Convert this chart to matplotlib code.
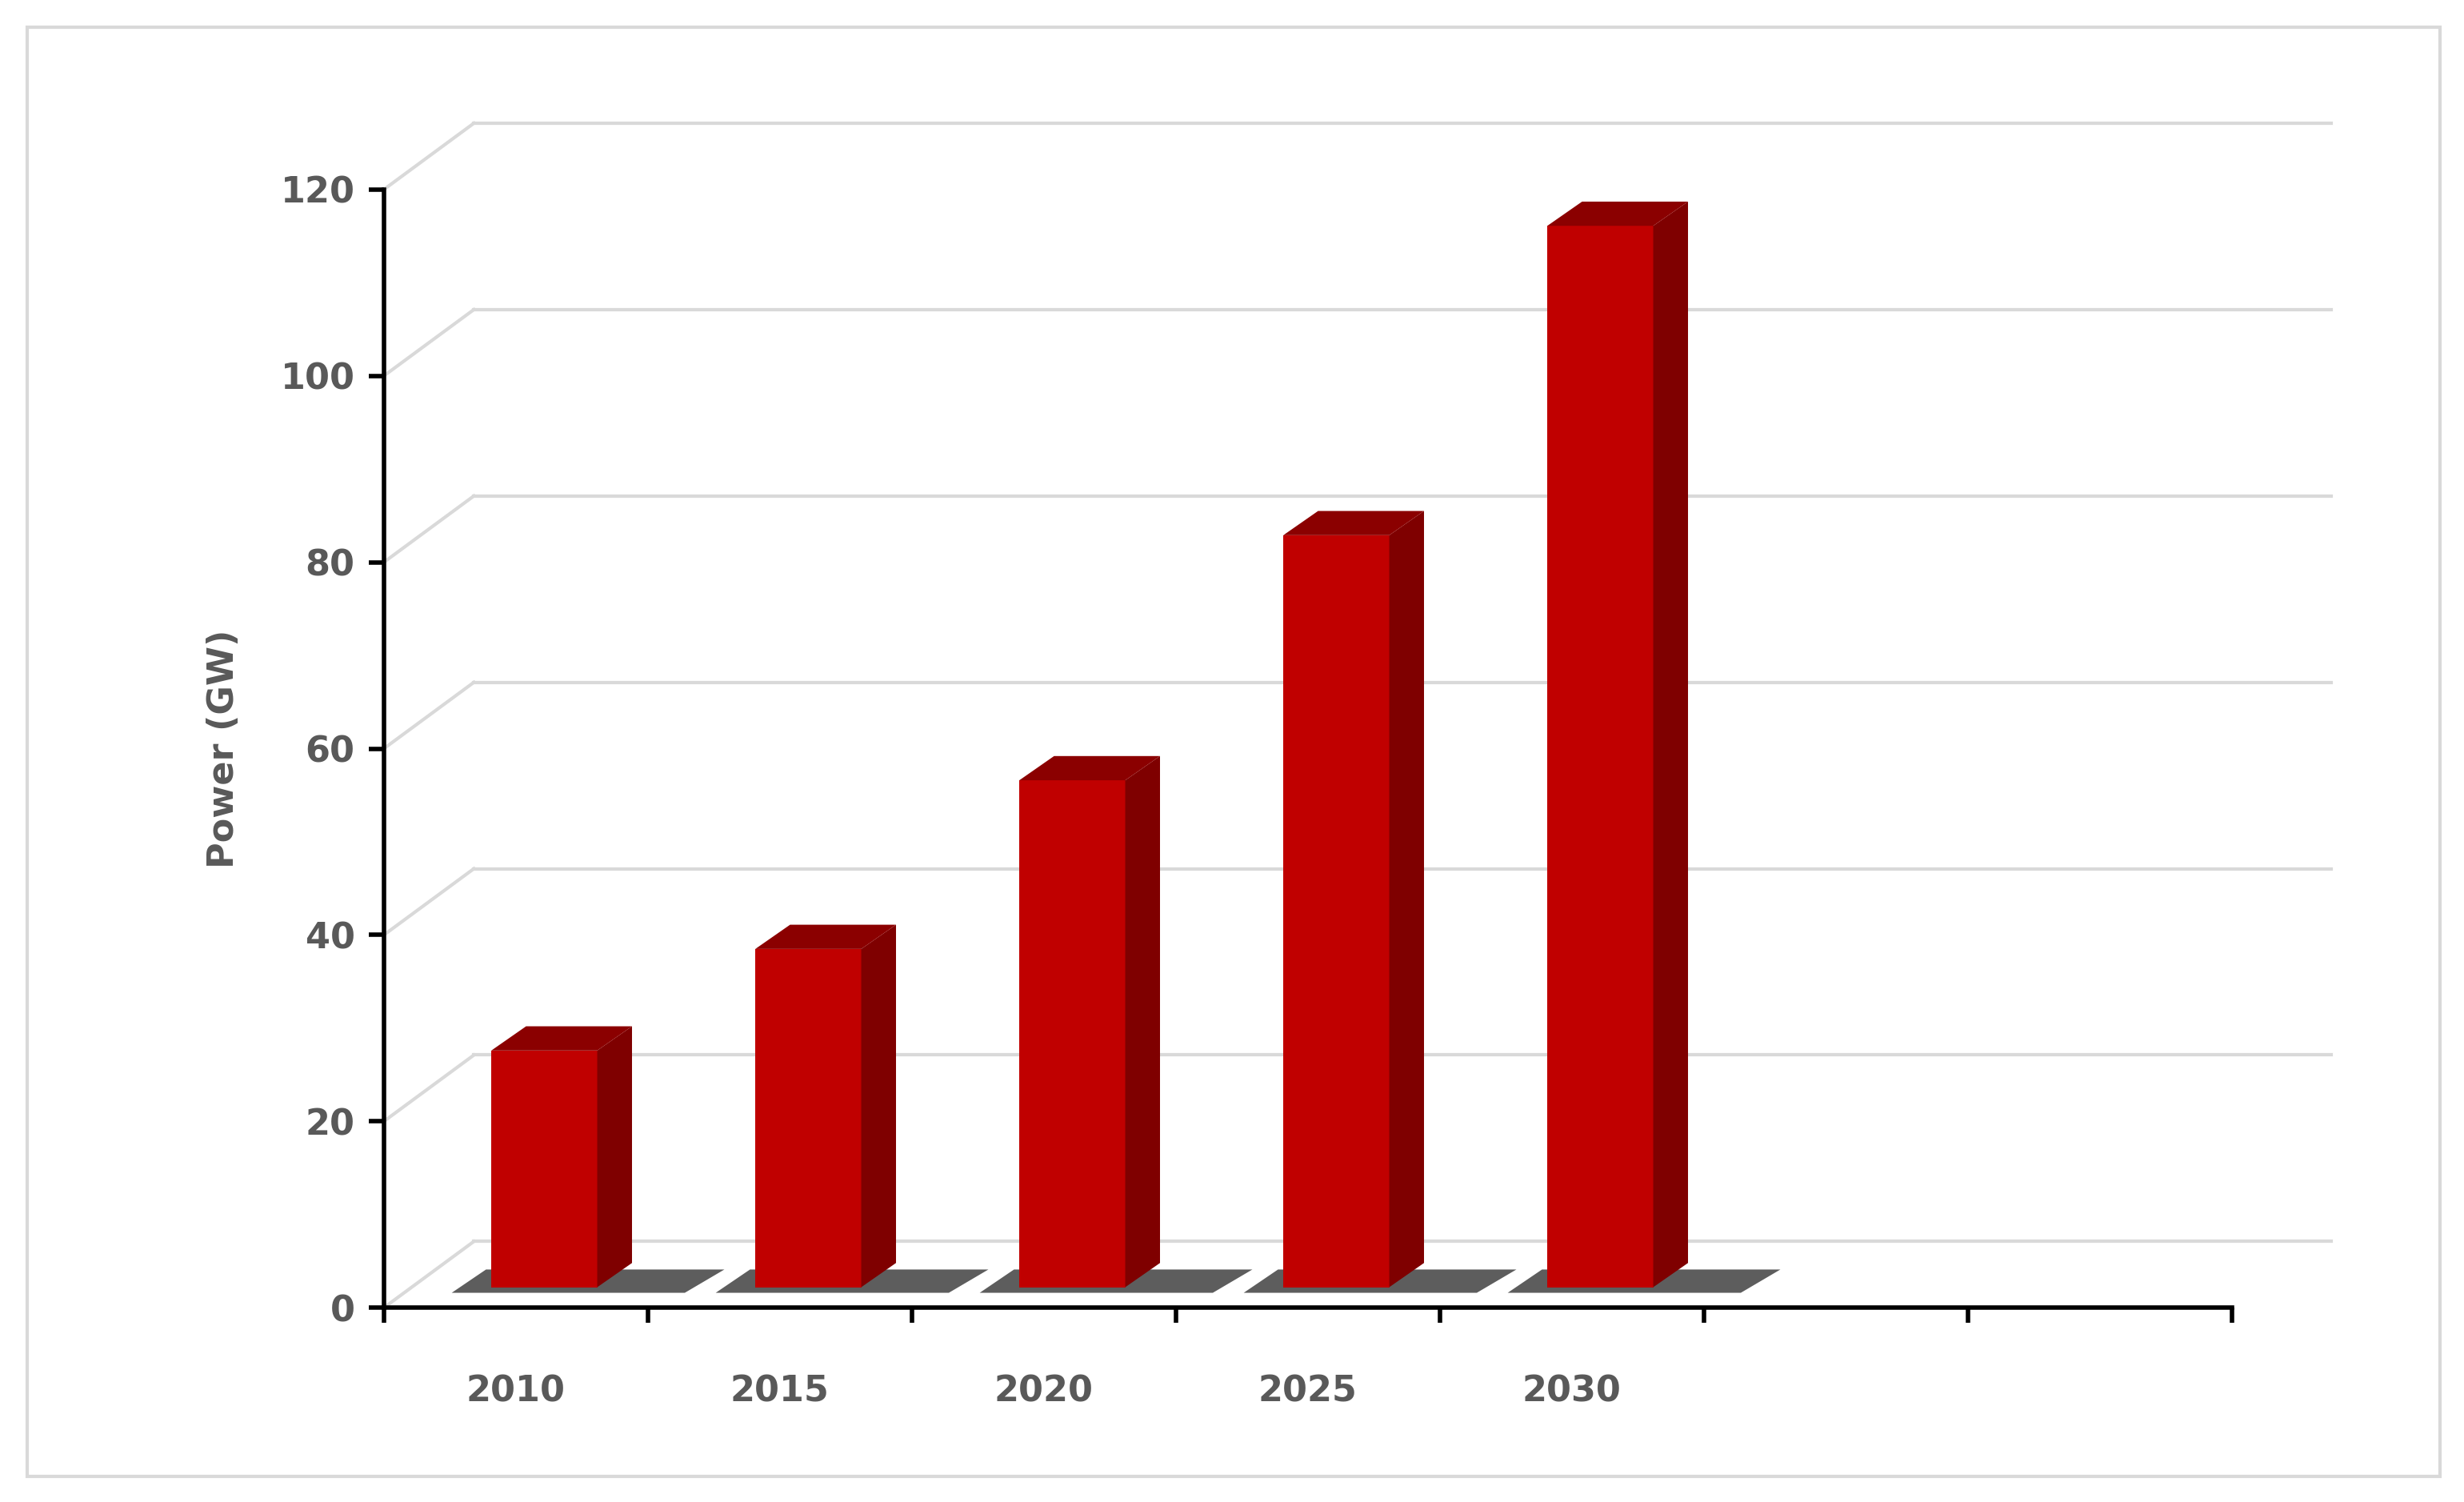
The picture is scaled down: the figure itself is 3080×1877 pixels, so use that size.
import matplotlib
matplotlib.use("Agg")
import matplotlib.pyplot as plt
from matplotlib.patches import Polygon, Rectangle

years = ["2010", "2015", "2020", "2025", "2030"]
power = [25.4, 36.3, 54.4, 80.7, 113.9]
yticks = [0, 20, 40, 60, 80, 100, 120]
n_slots = 7

fig = plt.figure(figsize=(15.4, 9.385), dpi=200)
fig.patches.append(Rectangle((17/1560, 1-935/951), (1545-17)/1560, (935-17)/951,
                             transform=fig.transFigure, fill=False, ec="#d9d9d9", lw=1.5))
ax = fig.add_axes([243/1560, 1-828/951, (1413-243)/1560, (828-120)/951])
ax.set_xlim(0, n_slots)
ax.set_ylim(0, 120)
for s in ax.spines.values():
    s.set_visible(False)

ddx, ddy = 57/167, 42/5.9  # back-wall offset (x in slots, y in GW)
wall_right = (1475-243)/167

# gridlines (back wall + left wall diagonals)
for v in yticks:
    ax.plot([ddx, wall_right], [v+ddy, v+ddy], color="#d9d9d9", lw=1.5, clip_on=False, zorder=1)
    ax.plot([0, ddx], [v, v+ddy], color="#d9d9d9", lw=1.5, clip_on=False, zorder=1)

# bars
bw = 67/167
side = 22/167
topdy = 2.6
base_dx, base_dy = 0.0, 13/5.9
for i, v in enumerate(power):
    x0 = i + (311-243)/167
    b = base_dy
    # shadow
    ax.add_patch(Polygon([[x0-0.15, b-0.6], [x0+bw+side+0.2, b-0.6], [x0+bw+side+0.35, b+1.9],
                          [x0-0.02, b+1.9]], closed=True, fc="#404040", ec="none", alpha=0.85,
                         zorder=2, clip_on=False))
    ax.add_patch(Polygon([[x0, b], [x0+bw, b], [x0+bw, b+v], [x0, b+v]], fc="#c00000", ec="none", zorder=4))
    ax.add_patch(Polygon([[x0+bw, b], [x0+bw+side, b+topdy], [x0+bw+side, b+v+topdy], [x0+bw, b+v]],
                         fc="#7f0000", ec="none", zorder=4))
    ax.add_patch(Polygon([[x0, b+v], [x0+bw, b+v], [x0+bw+side, b+v+topdy], [x0+side, b+v+topdy]],
                         fc="#8b0000", ec="none", zorder=4, clip_on=False))

# axes lines
ax.plot([0, 0], [0, 120], color="black", lw=2, clip_on=False, zorder=5)
ax.plot([0, n_slots], [0, 0], color="black", lw=2, clip_on=False, zorder=5)
ax.set_yticks(yticks)
ax.set_xticks(range(n_slots+1))
ax.set_xticklabels([])
ax.tick_params(axis="y", length=7, width=2, direction="out", labelsize=16, labelcolor="#595959", pad=6)
ax.tick_params(axis="x", length=7, width=2, direction="out")
for t in ax.get_yticklabels():
    t.set_fontweight("bold")
for i, y in enumerate(years):
    ax.text(i+0.5, -9, y, ha="center", va="center", fontsize=16, fontweight="bold", color="#595959")
ax.set_ylabel("Power (GW)", fontsize=16, fontweight="bold", color="#595959", labelpad=18)
fig.savefig("out.png", dpi=200, facecolor="white")
